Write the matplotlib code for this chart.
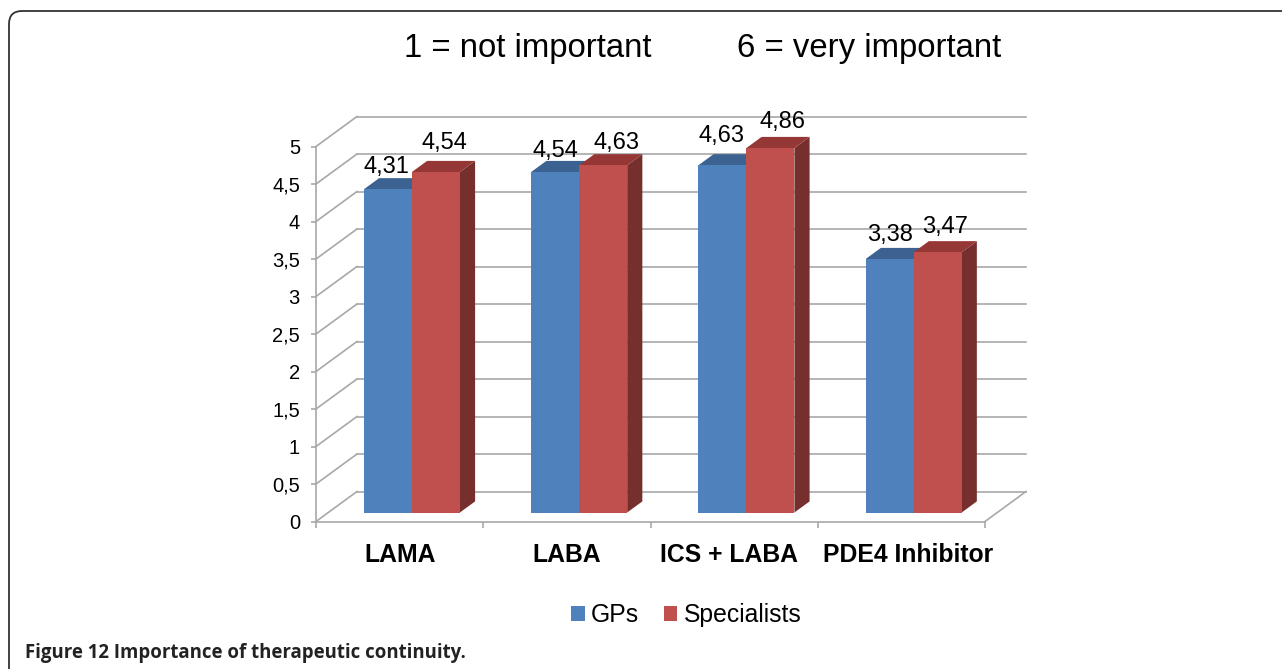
from matplotlib import pyplot as plt
from matplotlib.patches import Patch, PathPatch, Polygon
from matplotlib.path import Path
import numpy as np

plt.rcParams["font.family"] = ["Liberation Sans", "DejaVu Sans"]

categories = ["LAMA", "LABA", "ICS + LABA", "PDE4 Inhibitor"]
gps = [4.31, 4.54, 4.63, 3.38]
specialists = [4.54, 4.63, 4.86, 3.47]
y_ticks = [0, 0.5, 1, 1.5, 2, 2.5, 3, 3.5, 4, 4.5, 5]
y_labels = ["0", "0,5", "1", "1,5", "2", "2,5", "3", "3,5", "4", "4,5", "5"]

GRID = "#a8a8a8"
BLUE = ("#4f81bd", "#3c6291", "#3a5f8c")
RED = ("#c0504d", "#953735", "#772f2e")

W, H = 1282, 669
fig = plt.figure(figsize=(W / 100, H / 100), dpi=100)
ax = fig.add_axes([316 / W, (H - 521.5) / H, 669 / W, 375 / H])
ax.set_xlim(0, 4)
ax.set_ylim(0, 5)

# size of the sloped floor, in data units
DEPTH_X = 41 / (669 / 4)
DEPTH_Y = 30 / 75
BAR_W = 0.287
BAR_FRONT = 0.3
BAR_BACK = 0.67


def proj(x, y, d):
    return (x + d * DEPTH_X, y + d * DEPTH_Y)


def box(x, w, v, colors):
    face, top, side = colors
    d0, d1 = BAR_FRONT, BAR_BACK
    ax.add_patch(Polygon([proj(x + w, 0, d0), proj(x + w, 0, d1), proj(x + w, v, d1), proj(x + w, v, d0)],
                         fc=side, ec="none", clip_on=False, zorder=3))
    ax.add_patch(Polygon([proj(x, v, d0), proj(x + w, v, d0), proj(x + w, v, d1), proj(x, v, d1)],
                         fc=top, ec="none", clip_on=False, zorder=3))
    ax.add_patch(Polygon([proj(x, 0, d0), proj(x + w, 0, d0), proj(x + w, v, d0), proj(x, v, d0)],
                         fc=face, ec="none", clip_on=False, zorder=4))


# back wall and side wall
for t in y_ticks:
    ax.plot(*zip(proj(0, t, 0), proj(0, t, 1)), color=GRID, lw=1.2, clip_on=False, zorder=1)
    ax.plot(*zip(proj(0, t, 1), proj(4, t, 1)), color=GRID, lw=1.2, clip_on=False, zorder=1)
ax.plot(*zip(proj(4, 0, 0), proj(4, 0, 1)), color=GRID, lw=1.2, clip_on=False, zorder=1)

x = np.arange(len(categories)) + 0.5
for i in range(len(categories)):
    box(x[i] - BAR_W, BAR_W, gps[i], BLUE)
    box(x[i], BAR_W, specialists[i], RED)

# value labels, nudged by hand in pixels like the original
gps_nudge = [(-18, 22), (-16, 21), (-18, 29), (-16, 24)]
spec_nudge = [(-8, 29), (-3, 22), (-5, 26), (-9, 25)]
for i in range(len(categories)):
    for val, xpos, nudge in [(gps[i], x[i] - BAR_W / 2, gps_nudge[i]), (specialists[i], x[i] + BAR_W / 2, spec_nudge[i])]:
        px, py = proj(xpos, val, BAR_FRONT)
        ax.annotate(f"{val:.2f}".replace(".", ","), (px, py),
                    xytext=(nudge[0] * 0.72 + 12, nudge[1] * 0.72), textcoords="offset points",
                    ha="center", va="center", fontsize=17, color="black", zorder=6, annotation_clip=False)

# the two long category labels sit a little off centre
label_shift = [0, 0, -0.03, 0.042]
ax.set_yticks(y_ticks)
ax.set_yticklabels(y_labels, fontsize=14.5)
ax.set_xticks(np.arange(0, 5))
ax.set_xticklabels([])
ax.set_xticks(x + np.array(label_shift), minor=True)
ax.set_xticklabels(categories, minor=True, fontsize=17.8, fontweight="bold")
ax.tick_params(axis="y", length=3.6, color=GRID, pad=8, width=1.2)
ax.tick_params(axis="x", which="major", length=4.5, color=GRID, width=1.2)
ax.tick_params(axis="x", which="minor", length=0, pad=15.5)
for s in ["top", "right"]:
    ax.spines[s].set_visible(False)
for s in ["left", "bottom"]:
    ax.spines[s].set_color(GRID)
    ax.spines[s].set_linewidth(1.2)
ax.patch.set_alpha(0)

fig.legend(handles=[Patch(fc=BLUE[0], label="GPs"), Patch(fc=RED[0], label="Specialists")],
           loc="center", bbox_to_anchor=(686 / W, 1 - 615 / H), ncol=2, frameon=False, fontsize=17.8,
           handlelength=0.56, handleheight=0.56, handletextpad=0.25, columnspacing=1.0)

fig.text(404 / W, 1 - 49 / H, "1 = not important", fontsize=23.7, va="center", ha="left")
fig.text(737 / W, 1 - 49 / H, "6 = very important", fontsize=23.7, va="center", ha="left")
fig.text(25 / W, 1 - 653 / H, "Figure 12 Importance of therapeutic continuity.", fontsize=13.4,
         fontweight="bold", family="Open Sans", color="#222222", va="center", ha="left")

# rounded panel border, runs off the right and bottom edges
r = 13
verts = [(9, H), (9, 11 + r), (9, 11), (9 + r, 11), (W, 11)]
codes = [Path.MOVETO, Path.LINETO, Path.CURVE3, Path.CURVE3, Path.LINETO]
fig.add_artist(PathPatch(Path([(a / W, 1 - b / H) for a, b in verts], codes), fc="none", ec="#333333", lw=1.3,
                         transform=fig.transFigure))

fig.savefig("out.png", dpi=100)
